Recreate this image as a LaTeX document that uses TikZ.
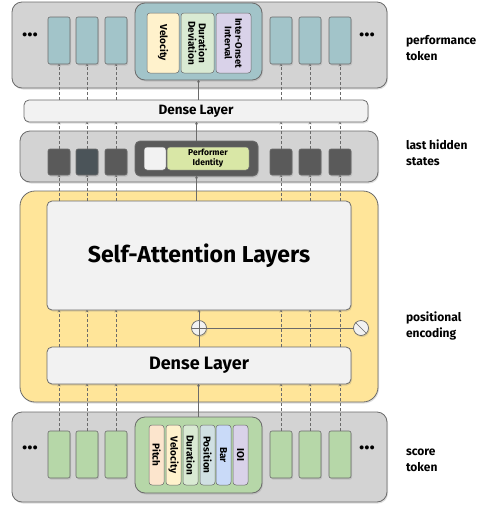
\documentclass[tikz,border=0pt]{standalone}
\usepackage{fontspec}
\setmainfont{Fira Sans}
\usepackage{tikz}
\usetikzlibrary{arrows.meta,calc,shadows}
\definecolor{panelgray}{HTML}{D3D3D3}
\definecolor{edgegray}{HTML}{6B6B6B}
\definecolor{tealtok}{HTML}{A2C4C9}
\definecolor{yellowpanel}{HTML}{FFE599}
\definecolor{greentok}{HTML}{B6D7A8}
\definecolor{lightbox}{HTML}{F2F2F2}
\definecolor{darktok}{HTML}{5A5A5A}
\definecolor{bluedark}{HTML}{4B5459}
\definecolor{perfid}{HTML}{D9E7A6}
\definecolor{cvel}{HTML}{FFF2CC}
\definecolor{cdur}{HTML}{D9EAD3}
\definecolor{cioi}{HTML}{D9D2E9}
\definecolor{cpitch}{HTML}{FCE5CD}
\definecolor{cpos}{HTML}{D0E0E3}
\definecolor{cbar}{HTML}{C9DAF8}

\begin{document}
\begin{tikzpicture}[x=1pt,y=-1pt,
  every node/.style={inner sep=0pt,outer sep=0pt},
  shade/.style={drop shadow={opacity=0.25,shadow xshift=1pt,shadow yshift=-1.5pt}},
  panel/.style={draw=edgegray,line width=0.8pt,fill=panelgray,rounded corners=10pt,shade},
  layerbox/.style={draw=edgegray,line width=0.8pt,fill=lightbox,rounded corners=5pt,shade,font=\bfseries},
  tok/.style={draw=edgegray,line width=0.6pt,rounded corners=2pt,minimum width=22pt,shade},
  field/.style={draw=edgegray,line width=0.5pt,rounded corners=3pt,rotate=-90,
    minimum height=15pt,minimum width=60pt,align=center,font=\bfseries\fontsize{10}{10.5}\selectfont},
  sidelabel/.style={anchor=north west,align=left,font=\bfseries\fontsize{12}{16}\selectfont},
  dots/.style={font=\bfseries\fontsize{22}{22}\selectfont},
  dasharrow/.style={draw=edgegray,line width=0.5pt,dashed,dash pattern=on 3pt off 2pt,-{To[length=2.5pt,width=3pt]}},
  solidarrow/.style={draw=edgegray,line width=0.6pt,-{To[length=2.5pt,width=3pt]}}]
\useasboundingbox (0,0) rectangle (491,512);

% performance token
\node[panel,minimum width=375pt,minimum height=86pt] (ptpanel) at (199.5,45) {};
\node[dots] (ptdotsl) at (30,35) {...};
\node[dots] (ptdotsr) at (367,35) {...};
\foreach \x [count=\i] in {59,87,116,281,310,340}
  \node[tok,fill=tealtok,minimum height=47pt] (pt\i) at (\x,40.5) {};
\node[panel,fill=tealtok,rounded corners=10pt,minimum width=127pt,minimum height=77pt] (pg) at (198.5,41.5) {};
\node[field,fill=cvel,minimum height=32pt] (fvel) at (163,43) {Velocity};
\node[field,fill=cdur,minimum height=33pt] (fdev) at (197.5,43) {Duration\\Deviation};
\node[field,fill=cioi,minimum height=35pt,font=\bfseries\fontsize{9.5}{10.5}\selectfont] (fioi) at (233.5,43) {Inter-Onset\\Interval};
\node[sidelabel] (lblpt) at (406,35) {performance\\token};

% dense layer (output)
\node[layerbox,minimum width=344pt,minimum height=22pt,font=\bfseries\fontsize{13.5}{13.5}\selectfont] (dlt) at (196,111) {Dense Layer};

% last hidden states
\node[panel,minimum width=358pt,minimum height=51pt] (hspanel) at (199,156.5) {};
\foreach \x/\c [count=\i] in {59/darktok,87/bluedark,116/darktok,281/darktok,310/darktok,340/darktok}
  \node[tok,fill=\c,minimum height=26pt] (hs\i) at (\x,162) {};
\node[panel,fill=darktok,rounded corners=5pt,minimum width=123pt,minimum height=35pt] (hg) at (196.5,158.5) {};
\node[draw=edgegray,line width=0.5pt,fill=lightbox,rounded corners=3pt,minimum width=22pt,minimum height=23pt] (hwhite) at (155,158.5) {};
\node[draw=edgegray,line width=0.5pt,fill=perfid,rounded corners=3pt,minimum width=82pt,minimum height=23pt,
  align=center,font=\bfseries\fontsize{8.5}{10}\selectfont] (hperf) at (208,158.5) {Performer\\Identity};
\node[sidelabel] (lblhs) at (406,140) {last hidden\\states};

% encoder
\node[panel,fill=yellowpanel,rounded corners=15pt,minimum width=358pt,minimum height=211pt] (enc) at (199,296.5) {};
\node[layerbox,minimum width=304pt,minimum height=109pt,font=\bfseries\fontsize{23}{23}\selectfont] (sa) at (199,255.5) {Self-Attention Layers};
\node[layerbox,minimum width=304pt,minimum height=37pt,font=\bfseries\fontsize{18}{18}\selectfont] (dlb) at (199,365.5) {Dense Layer};
\node[circle,draw=edgegray,line width=0.7pt,fill=lightbox,minimum size=15pt,shade] (add) at (199,328) {};
\draw[edgegray,line width=0.7pt] (add.north) -- (add.south) (add.west) -- (add.east);
\node[circle,draw=edgegray,line width=0.7pt,fill=lightbox,minimum size=15pt,shade] (pe) at (361,328) {};
\draw[edgegray,line width=0.7pt] (pe.north west) -- (pe.south east);
\draw[edgegray,line width=0.7pt] (add.east) -- (pe.west);
\node[sidelabel] (lblpe) at (406,312) {positional\\encoding};

% score token
\node[panel,minimum width=375pt,minimum height=90pt] (stpanel) at (199.5,457) {};
\node[dots] (stdotsl) at (30,448) {...};
\node[dots] (stdotsr) at (367,448) {...};
\foreach \x [count=\i] in {59,87,116,281,310,340}
  \node[tok,fill=greentok,minimum height=47pt] (st\i) at (\x,454.5) {};
\node[panel,fill=greentok,rounded corners=10pt,minimum width=127pt,minimum height=76pt] (sg) at (198.5,455) {};
\foreach \x/\c/\t [count=\i] in {156.5/cpitch/Pitch,173.5/cvel/Velocity,190.5/cdur/Duration,207.5/cpos/Position,223.5/cbar/Bar,240.5/cioi/IOI}
  \node[field,fill=\c] (sf\i) at (\x,455) {\t};
\node[sidelabel] (lblst) at (406,449) {score\\token};

% connectors
\foreach \i in {1,...,6}{
  \draw[dasharrow] (dlt.north -| pt\i) -- (pt\i.south);
  \draw[dasharrow] (hs\i.north) -- (dlt.south -| hs\i);
  \draw[dasharrow] (sa.north -| hs\i) -- (hs\i.south);
  \draw[dasharrow] (dlb.north -| st\i) -- (sa.south -| st\i);
  \draw[dasharrow] (st\i.north) -- (dlb.south -| st\i);
}
\draw[solidarrow] (dlt.north -| pg) -- (pg.south);
\draw[solidarrow] (hg.north) -- (dlt.south -| hg);
\draw[solidarrow] (sa.north -| hg) -- (hg.south);
\draw[edgegray,line width=0.6pt] (dlb.north -| add) -- (add.south);
\draw[solidarrow] (add.north) -- (sa.south -| add);
\draw[solidarrow] (sg.north) -- (dlb.south -| sg);
\end{tikzpicture}
\end{document}
